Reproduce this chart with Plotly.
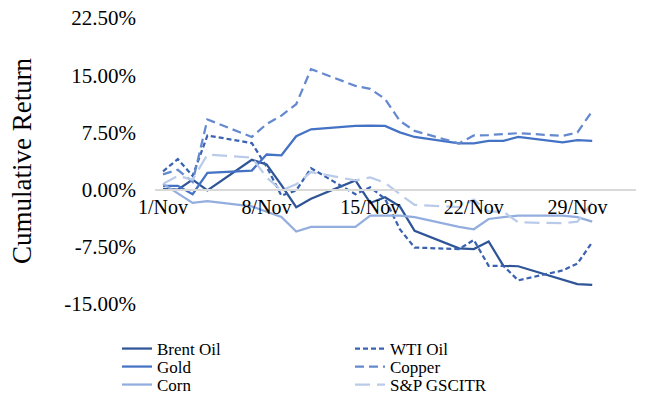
import plotly.graph_objects as go

dates = ['2022-11-01', '2022-11-02', '2022-11-03', '2022-11-04', '2022-11-07', '2022-11-08',
         '2022-11-09', '2022-11-10', '2022-11-11', '2022-11-14', '2022-11-15', '2022-11-16',
         '2022-11-17', '2022-11-18', '2022-11-21', '2022-11-22', '2022-11-23', '2022-11-24',
         '2022-11-25', '2022-11-28', '2022-11-29', '2022-11-30']

brent = [0.1, 0.0, 1.3, -0.1, 3.9, 3.3, 0.6, -2.3, -1.2, 1.2, -1.75, -1.0, -2.2, -5.4,
         -7.7, -7.8, -6.8, -10.0, -10.05, -11.8, -12.4, -12.5]
wti = [2.4, 4.0, 1.8, 7.1, 6.1, 3.0, -0.8, -0.1, 2.8, -0.6, 0.3, -1.2, -5.2, -7.6,
       -7.8, -6.6, -10.0, -10.0, -11.9, -10.6, -9.7, -6.9]
gold = [0.5, 0.5, -0.6, 2.2, 2.5, 4.6, 4.5, 7.0, 7.9, 8.35, 8.4, 8.35, 7.5, 6.9,
        6.05, 6.05, 6.4, 6.4, 6.9, 6.2, 6.5, 6.4]
copper = [2.0, 2.6, 1.0, 9.2, 6.9, 8.6, 9.7, 11.2, 15.8, 13.6, 13.2, 11.9, 9.0, 7.7,
          6.05, 7.1, 7.15, 7.3, 7.4, 7.05, 7.5, 10.3]
corn = [0.75, -0.5, -1.75, -1.5, -2.2, -2.9, -3.6, -5.5, -4.9, -4.9, -3.4, -3.4, -3.4, -3.6,
        -4.9, -5.2, -3.85, -3.6, -3.4, -3.4, -3.6, -4.2]
spgsci = [0.75, 1.8, 1.3, 4.6, 4.2, 1.6, -0.1, 0.7, 2.3, 1.2, 1.6, 0.9, -0.6, -2.0,
          -2.3, -1.3, -2.9, -2.9, -4.3, -4.4, -4.2, -1.7]

series_names = ['Brent Oil', 'WTI Oil', 'Gold', 'Copper', 'Corn', 'S&P GSCITR']

x_tick_vals = ['2022-11-01', '2022-11-08', '2022-11-15', '2022-11-22', '2022-11-29']
x_tick_text = ['1/Nov', '8/Nov', '15/Nov', '22/Nov', '29/Nov']
y_tick_vals = [-15, -7.5, 0, 7.5, 15, 22.5]
y_tick_text = ['-15.00%', '-7.50%', '0.00%', '7.50%', '15.00%', '22.50%']

styles = [
    dict(color='#2F5597', dash='solid'),
    dict(color='#3A62B0', dash='5px,3px'),
    dict(color='#4472C4', dash='solid'),
    dict(color='#6489CF', dash='9px,5px'),
    dict(color='#93AEDE', dash='solid'),
    dict(color='#BACBEA', dash='15px,7px'),
]
legend_rows = ['legend', 'legend', 'legend2', 'legend2', 'legend3', 'legend3']

fig = go.Figure()
for name, vals, st, lg in zip(series_names, [brent, wti, gold, copper, corn, spgsci],
                              styles, legend_rows):
    fig.add_trace(go.Scatter(x=dates, y=vals, mode='lines', name=name, legend=lg,
                             line=dict(color=st['color'], dash=st['dash'], width=2.25)))

font_family = 'Liberation Serif, Times New Roman, serif'
W, H = 663, 394


def legend_row(yc):
    return dict(orientation='h', xref='container', yref='container',
                x=117 / W, xanchor='left', y=1 - yc / H, yanchor='middle',
                entrywidth=188, entrywidthmode='pixels',
                font=dict(size=17, family=font_family), bgcolor='rgba(0,0,0,0)')


fig.update_layout(
    width=W, height=H,
    margin=dict(l=155, r=27, t=18, b=90, autoexpand=False),
    plot_bgcolor='white', paper_bgcolor='white',
    font=dict(family=font_family, color='#000000'),
    showlegend=True,
    legend=legend_row(349),
    legend2=legend_row(367),
    legend3=legend_row(385),
    xaxis=dict(type='date', range=['2022-10-31 11:00', '2022-12-02 23:00'],
               tickvals=x_tick_vals, ticktext=x_tick_text,
               showgrid=False, zeroline=False, showline=True, linecolor='#D9D9D9',
               linewidth=1.5, ticks='', anchor='free', position=0.4,
               tickfont=dict(size=20, family=font_family), automargin=False),
    yaxis=dict(range=[-15, 22.5], tickvals=y_tick_vals, ticktext=y_tick_text,
               showgrid=False, zeroline=False, showline=False, ticks='',
               ticklabelstandoff=18, automargin=False, ticklabeloverflow='allow',
               tickfont=dict(size=21, family=font_family),
               title=dict(text='Cumulative Return', font=dict(size=27, family=font_family),
                          standoff=24)),
)

fig.write_html('out.html', config={'displayModeBar': False},
               post_script="document.body.style.margin='0px';"
                           "document.body.style.overflow='hidden';")
